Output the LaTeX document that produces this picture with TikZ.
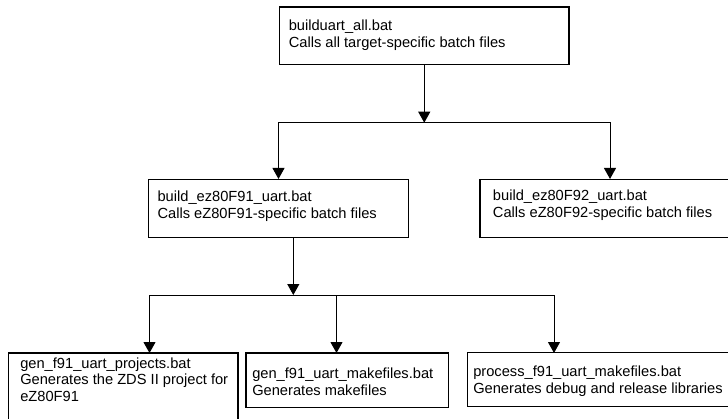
\documentclass[tikz,border=0pt]{standalone}
\usepackage{fontspec}
\setmainfont{Liberation Sans}
\usetikzlibrary{arrows.meta}

\begin{document}
\begin{tikzpicture}[x=0.75pt,y=-0.75pt,>={Triangle[length=8.25pt,width=9pt]},
  batbox/.style={draw, line width=0.8pt, inner sep=0pt},
  lbl/.style={anchor=base west, inner sep=0pt, font=\fontsize{11}{12.6}\selectfont},
  conn/.style={->, line width=0.75pt}]

\clip (0,0) rectangle (728,418);

% Top-level batch file
\node[batbox, minimum width=217.1pt, minimum height=43pt] (all) at (424.25,35.65) {};
\node[lbl] (allt) at (288.5,30.7) {\vtop{\hbox{builduart\_all.bat}\hbox{Calls all target-specific batch files}}};

% Target batch files
\node[batbox, minimum width=195.3pt, minimum height=43.35pt] (f91) at (278.5,208.4) {};
\node[lbl] (f91t) at (157.3,201.7) {\vtop{\hbox{build\_ez80F91\_uart.bat}\hbox{Calls eZ80F91-specific batch files}}};

\node[batbox, minimum width=195pt, minimum height=43.35pt] (f92) at (610,208.4) {};
\node[lbl] (f92t) at (492.7,200.9) {\vtop{\hbox{build\_ez80F92\_uart.bat}\hbox{Calls eZ80F92-specific batch files}}};

% eZ80F91 batch files
\node[batbox, minimum width=172.3pt, minimum height=53.25pt] (proj) at (123.15,388.5) {};
\node[lbl] (projt) at (20,368) {\vtop{\hbox{gen\_f91\_uart\_projects.bat}\hbox{Generates the ZDS II project for}\hbox{eZ80F91}}};

\node[batbox, minimum width=151.7pt, minimum height=40.7pt] (mk) at (347.15,380.15) {};
\node[lbl] (mkt) at (252,378.3) {\vtop{\hbox{gen\_f91\_uart\_makefiles.bat}\hbox{Generates makefiles}}};

\node[batbox, minimum width=201.5pt, minimum height=40.5pt] (proc) at (601.65,379.7) {};
\node[lbl] (proct) at (473,376.5) {\vtop{\hbox{process\_f91\_uart\_makefiles.bat}\hbox{Generates debug and release libraries}}};

% Connectors
\coordinate (j1) at (424.25,122.7);
\draw[conn] (all.south) -- (j1);
\draw[conn] (j1) -| (f91.north);
\draw[conn] (j1) -| (f92.north);

\coordinate (s1) at (293.3,237.3);
\coordinate (j2) at (293.3,295);
\coordinate (e1) at (149.5,353);
\coordinate (e2) at (336.5,353);
\coordinate (e3) at (554,353);
\draw[conn] (s1) -- (j2);
\draw[conn] (j2) -| (e1);
\draw[conn] (j2) -| (e2);
\draw[conn] (j2) -| (e3);

\end{tikzpicture}
\end{document}
